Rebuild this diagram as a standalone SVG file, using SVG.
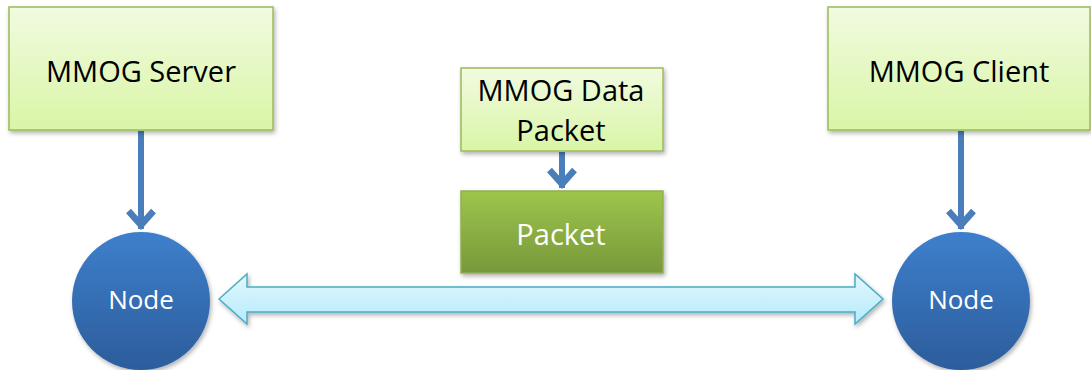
<svg xmlns="http://www.w3.org/2000/svg" width="1091" height="370" viewBox="0 0 1091 370">
  <defs>
    <linearGradient id="gLight" x1="0" y1="0" x2="0" y2="1">
      <stop offset="0" stop-color="#f1fbe0"/>
      <stop offset="1" stop-color="#d9f5a6"/>
    </linearGradient>
    <linearGradient id="gDark" x1="0" y1="0" x2="0" y2="1">
      <stop offset="0" stop-color="#9dc54c"/>
      <stop offset="1" stop-color="#78983a"/>
    </linearGradient>
    <linearGradient id="gNode" x1="0" y1="0" x2="0" y2="1">
      <stop offset="0" stop-color="#3e7fcc"/>
      <stop offset="1" stop-color="#2c5d9b"/>
    </linearGradient>
    <linearGradient id="gLink" x1="0" y1="0" x2="0" y2="1">
      <stop offset="0" stop-color="#e2f7fd"/>
      <stop offset="1" stop-color="#b5ebfb"/>
    </linearGradient>
    <filter id="shadow" x="-10%" y="-10%" width="125%" height="130%">
      <feDropShadow dx="1.5" dy="2.5" stdDeviation="2" flood-color="#000" flood-opacity="0.3"/>
    </filter>
    <marker id="head" viewBox="0 0 32 32" refX="26" refY="16" markerWidth="32" markerHeight="32" orient="auto" markerUnits="userSpaceOnUse">
      <path d="M8,3.5 L22,16 L8,28.5" fill="none" stroke="#4a7ebb" stroke-width="6.5" stroke-linejoin="miter" stroke-miterlimit="4"/>
    </marker>
  </defs>
  <style>
    .box { fill: url(#gLight); stroke: #9bbb59; stroke-width: 1.5; filter: url(#shadow); }
    .pkt { fill: url(#gDark); stroke: #8fb050; stroke-width: 1.5; filter: url(#shadow); }
    .node { fill: url(#gNode); filter: url(#shadow); }
    .lbl { font-family: "Open Sans", "Liberation Sans", sans-serif; fill: #000; text-anchor: middle; }
    .wlbl { font-family: "Open Sans", "Liberation Sans", sans-serif; fill: #fff; text-anchor: middle; }
    .conn { stroke: #4a7ebb; stroke-width: 6; fill: none; marker-end: url(#head); }
  </style>

  <g id="connectors">
    <line class="conn" x1="141" y1="131" x2="141" y2="229"/>
    <line class="conn" x1="961" y1="131" x2="961" y2="229"/>
    <line class="conn" x1="562" y1="152" x2="562" y2="188"/>
    <path id="link" d="M219,299 L247,274 L247,287 L855,287 L855,274 L883,299 L855,324 L855,312 L247,312 L247,324 Z" fill="url(#gLink)" stroke="#4bacc6" stroke-width="1.5" stroke-linejoin="miter" filter="url(#shadow)"/>
  </g>

  <g id="server">
    <rect class="box" x="9" y="7" width="264" height="123"/>
    <text class="lbl" x="141" y="82" font-size="29">MMOG Server</text>
  </g>

  <g id="client">
    <rect class="box" x="828" y="7" width="262" height="123"/>
    <text class="lbl" x="959" y="82" font-size="29">MMOG Client</text>
  </g>

  <g id="data-packet">
    <rect class="box" x="461" y="68" width="202" height="83"/>
    <text class="lbl" x="561" y="101" font-size="29">MMOG Data</text>
    <text class="lbl" x="561" y="141" font-size="29">Packet</text>
  </g>

  <g id="packet">
    <rect class="pkt" x="461" y="191" width="202" height="82"/>
    <text class="wlbl" x="561" y="245" font-size="29">Packet</text>
  </g>

  <g id="node-server">
    <circle class="node" cx="141" cy="301" r="69"/>
    <text class="wlbl" x="141" y="309" font-size="26">Node</text>
  </g>

  <g id="node-client">
    <circle class="node" cx="961" cy="301" r="69"/>
    <text class="wlbl" x="961" y="309" font-size="26">Node</text>
  </g>
</svg>
